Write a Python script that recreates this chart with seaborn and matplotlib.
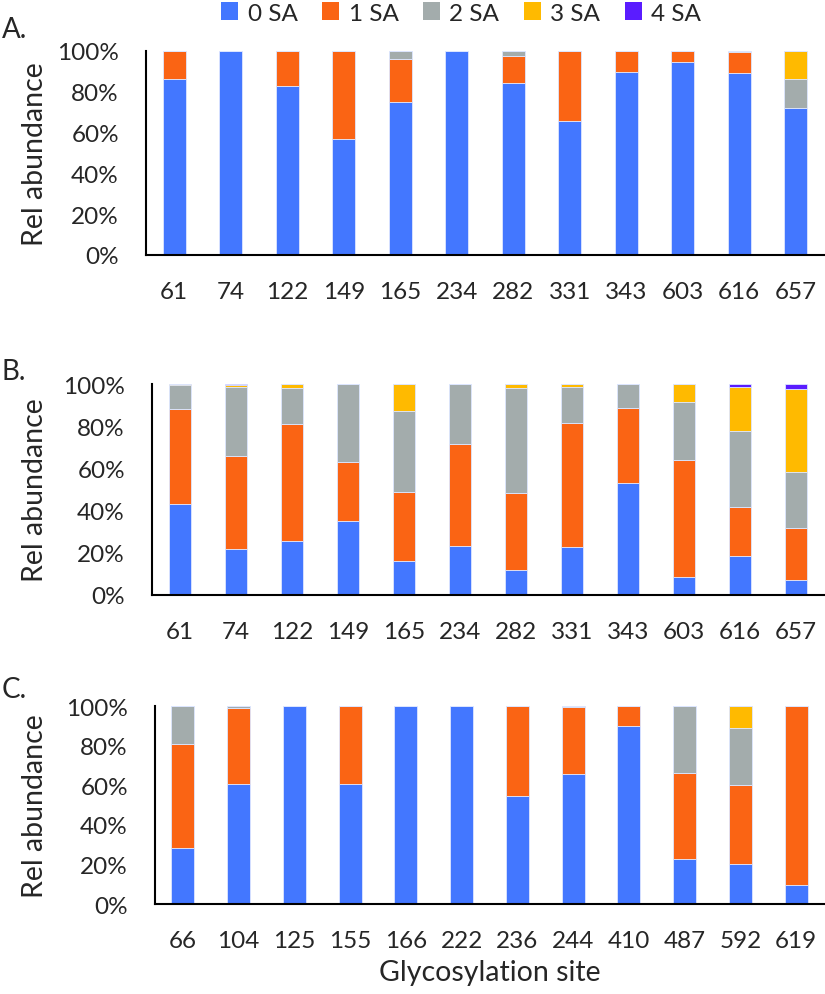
import numpy as np
import pandas as pd
import matplotlib
matplotlib.use("Agg")
import matplotlib.pyplot as plt
from matplotlib.patches import Patch
from matplotlib.ticker import FixedLocator, PercentFormatter
import seaborn as sns

sns.set_style("white")
plt.rcParams['font.family'] = ['Lato', 'DejaVu Sans']

series = ["0 SA", "1 SA", "2 SA", "3 SA", "4 SA"]
colors = ["#4377FF", "#FA6414", "#A3ACAC", "#FFBA00", "#5A1CFF"]

sites_A = ["61", "74", "122", "149", "165", "234", "282", "331", "343", "603", "616", "657"]
A_0 = [86.5, 100, 82.7, 57.1, 75.0, 100, 84.3, 65.7, 89.6, 94.6, 89.2, 72.1]
A_1 = [13.5, 0, 17.3, 42.9, 20.9, 0, 13.2, 34.3, 10.4, 5.4, 10.3, 0]
A_2 = [0, 0, 0, 0, 4.1, 0, 2.5, 0, 0, 0, 0.5, 14.2]
A_3 = [0, 0, 0, 0, 0, 0, 0, 0, 0, 0, 0, 13.7]
A_4 = [0, 0, 0, 0, 0, 0, 0, 0, 0, 0, 0, 0]

sites_B = ["61", "74", "122", "149", "165", "234", "282", "331", "343", "603", "616", "657"]
B_0 = [43.0, 21.6, 25.6, 35.2, 16.1, 23.4, 12.0, 22.6, 53.1, 8.7, 18.5, 7.3]
B_1 = [45.3, 44.4, 55.4, 27.8, 32.6, 48.2, 36.2, 58.8, 35.7, 55.4, 23.0, 24.5]
B_2 = [11.2, 32.7, 17.3, 37.0, 38.5, 28.4, 50.1, 17.3, 11.2, 27.5, 36.1, 26.3]
B_3 = [0.5, 1.0, 1.7, 0, 12.8, 0, 1.7, 1.3, 0, 8.4, 21.0, 39.7]
B_4 = [0, 0.3, 0, 0, 0, 0, 0, 0, 0, 0, 1.4, 2.2]

sites_C = ["66", "104", "125", "155", "166", "222", "236", "244", "410", "487", "592", "619"]
C_0 = [28.5, 60.8, 100, 60.8, 100, 100, 54.6, 65.7, 90.1, 22.8, 20.3, 9.4]
C_1 = [52.2, 38.4, 0, 39.2, 0, 0, 45.4, 33.8, 9.9, 43.2, 39.7, 90.6]
C_2 = [19.3, 0.8, 0, 0, 0, 0, 0, 0.5, 0, 34.0, 29.1, 0]
C_3 = [0, 0, 0, 0, 0, 0, 0, 0, 0, 0, 10.9, 0]
C_4 = [0, 0, 0, 0, 0, 0, 0, 0, 0, 0, 0, 0]

panels = [
    ("A.", sites_A, [A_0, A_1, A_2, A_3, A_4]),
    ("B.", sites_B, [B_0, B_1, B_2, B_3, B_4]),
    ("C.", sites_C, [C_0, C_1, C_2, C_3, C_4]),
]

W, H = 825, 995
fig = plt.figure(figsize=(W / 100, H / 100), dpi=100)

# axes boxes in pixels: left, right, top(100%), bottom(0%)
boxes = [(146, 824, 52, 256), (152, 824, 385, 596), (155, 824, 707, 905)]
panel_label_y = [30, 372, 690]

FS = 17.5
LFS = 20.5
for (lab, sites, vals), (l, r, t, b), ly in zip(panels, boxes, panel_label_y):
    ax = fig.add_axes([l / W, 1 - b / H, (r - l) / W, (b - t) / H])
    bottom = np.zeros(len(sites))
    for name, v, c in zip(series, vals, colors):
        df = pd.DataFrame({"site": sites, "val": np.array(v) / 100.0})
        sns.barplot(data=df, x="site", y="val", order=sites, color=c,
                    bottom=bottom, width=0.41, ax=ax, linewidth=0.6,
                    edgecolor="#dde6ff", saturation=1)
        bottom = bottom + np.array(v) / 100.0
    ax.set_xlim(-0.5, len(sites) - 0.5)
    ax.set_ylim(0, 1)
    ax.set_yticks(np.linspace(0, 1, 6))
    ax.yaxis.set_major_formatter(PercentFormatter(1.0, decimals=0))
    ax.tick_params(axis='y', which='major', direction='out', length=6.5,
                   width=1.5, color='black', labelsize=FS, pad=13)
    ax.set_xticks(range(len(sites)))
    ax.set_xticklabels(sites)
    ax.tick_params(axis='x', which='major', length=0, labelsize=FS, pad=19)
    ax.xaxis.set_minor_locator(FixedLocator(np.arange(-0.5, len(sites), 1.0)))
    ax.tick_params(axis='x', which='minor', direction='out', length=7,
                   width=1.5, color='black')
    for s in ['top', 'right']:
        ax.spines[s].set_visible(False)
    for s in ['left', 'bottom']:
        ax.spines[s].set_color('black')
        ax.spines[s].set_linewidth(1.5)
    ax.set_xlabel("")
    ax.set_ylabel("Rel abundance", fontsize=LFS)
    ax.yaxis.set_label_coords((48 - l) / (r - l), 0.5)
    ax.grid(False)
    fig.text(2 / W, 1 - ly / H, lab, fontsize=20, ha='left', va='center')
    last_ax = ax

last_ax.set_xlabel("Glycosylation site", fontsize=LFS)
last_ax.xaxis.set_label_coords(0.5, (905 - 960) / (905 - 707))

handles = [Patch(facecolor=c, edgecolor='none', label=n) for n, c in zip(series, colors)]
fig.legend(handles=handles, loc='center', bbox_to_anchor=(461 / W, 1 - 14 / H),
           ncol=5, frameon=False, fontsize=FS, handlelength=0.7, handleheight=0.7,
           handletextpad=0.4, columnspacing=1.0, borderpad=0.1)

fig.savefig("out.png", dpi=100)
